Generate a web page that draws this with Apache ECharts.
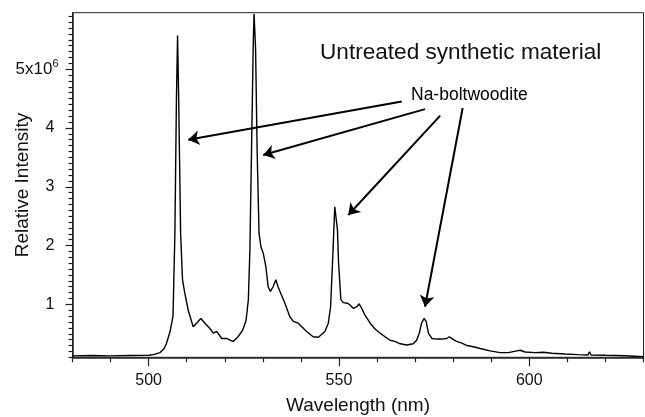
<!DOCTYPE html>
<html>
<head>
<meta charset="utf-8">
<script src="https://cdn.jsdelivr.net/npm/echarts@6/dist/echarts.min.js"></script>
<style>html,body{margin:0;padding:0;background:#fff}#c{width:645px;height:417px}</style>
</head>
<body>
<div id="c"></div>
<script>
// Wavelength (nm)
const wavelength = [480, 485, 490, 495, 500, 501.5, 503, 504.1, 504.7, 505.6, 506.4, 506.9, 507.3, 507.6, 507.9, 508.4, 508.9, 509.5, 510.4, 511.7, 512.6, 513.7, 514.8, 516.1, 517.0, 517.9, 519.2, 520.5, 521.4, 522.2, 523.5, 524.7, 525.6, 526.2, 526.6, 527.1, 527.5, 527.7, 528.1, 528.5, 529.0, 529.5, 530.1, 530.8, 531.4, 532.0, 532.7, 533.4, 534.0, 534.7, 535.8, 537.1, 538.0, 539.3, 541.5, 543.2, 544.6, 546.3, 547.2, 547.8, 548.3, 548.9, 549.2, 549.6, 549.9, 550.5, 551.1, 552.2, 552.9, 553.8, 554.7, 555.3, 556.0, 556.8, 558.2, 559.5, 560.8, 562.1, 563.4, 564.7, 566.1, 567.8, 569.5, 570.4, 571.1, 571.7, 572.35, 572.9, 573.5, 574.4, 575.7, 577.0, 578.3, 579.0, 579.9, 580.9, 582.3, 583.6, 585.3, 587.1, 589.7, 592.3, 594.5, 596.7, 597.6, 598.9, 601.5, 603.7, 605.9, 609.4, 612.9, 615.4, 615.8, 616.2, 620.0, 625.2, 630];
// Relative intensity (x10^6)
const intensity = [0.125, 0.13, 0.125, 0.13, 0.134, 0.15, 0.18, 0.25, 0.34, 0.53, 0.8, 2.21, 4.48, 5.57, 4.48, 2.21, 1.42, 1.19, 0.9, 0.62, 0.68, 0.76, 0.68, 0.59, 0.51, 0.54, 0.42, 0.42, 0.39, 0.37, 0.45, 0.56, 0.73, 1.08, 1.93, 3.91, 5.5, 5.94, 5.33, 3.63, 2.21, 1.98, 1.87, 1.64, 1.30, 1.22, 1.30, 1.42, 1.30, 1.19, 1.02, 0.79, 0.71, 0.68, 0.54, 0.45, 0.44, 0.54, 0.68, 0.96, 1.70, 2.66, 2.69, 2.27, 1.70, 1.08, 1.03, 1.02, 0.99, 0.93, 0.96, 1.01, 0.93, 0.82, 0.68, 0.58, 0.51, 0.45, 0.39, 0.37, 0.33, 0.31, 0.33, 0.39, 0.51, 0.68, 0.76, 0.71, 0.51, 0.42, 0.41, 0.41, 0.42, 0.45, 0.41, 0.37, 0.34, 0.30, 0.28, 0.25, 0.21, 0.18, 0.18, 0.21, 0.22, 0.19, 0.18, 0.185, 0.17, 0.156, 0.145, 0.14, 0.195, 0.14, 0.134, 0.127, 0.11];
const xLabelValues = [500, 550, 600];
const yLabelValues = [1, 2, 3, 4, 5];
const yMinorTicks = [0.1,0.2,0.3,0.4,0.5,0.6,0.7,0.8,0.9,1.1,1.2,1.3,1.4,1.5,1.6,1.7,1.8,1.9,2.1,2.2,2.3,2.4,2.5,2.6,2.7,2.8,2.9,3.1,3.2,3.3,3.4,3.5,3.6,3.7,3.8,3.9,4.1,4.2,4.3,4.4,4.5,4.6,4.7,4.8,4.9,5.1,5.2,5.3,5.4,5.5,5.6,5.7,5.8,5.9];
const xMinorTicks = [480,490,510,520,530,540,560,570,580,590,610,620,630];
const titleText = 'Untreated synthetic material';
const annotationText = 'Na-boltwoodite';
// Arrows: [start wavelength, start intensity, end wavelength, end intensity]
const arrows = [
  [566.5, 4.45, 510.4, 3.80],
  [572.6, 4.32, 530.1, 3.54],
  [576.6, 4.21, 552.45, 2.52],
  [582.5, 4.34, 572.6, 0.96]
];

const FONT = 'Liberation Sans, Arial, Helvetica, sans-serif';
const chart = echarts.init(document.getElementById('c'), null, {renderer: 'canvas'});
const data = wavelength.map((w, i) => [w, intensity[i]]);

const option = {
  animation: false,
  backgroundColor: '#fff',
  grid: {left: 72.5, right: 1.5, top: 12.7, bottom: 59.7, containLabel: false, outerBoundsMode: 'none', show: true, borderColor: '#222', borderWidth: 1, backgroundColor: 'transparent'},
  xAxis: [{
    type: 'value', min: 480, max: 630, interval: 10,
    axisLine: {show: true, lineStyle: {color: '#222', width: 1.5}},
    axisTick: {show: true, customValues: xMinorTicks, length: 5, lineStyle: {color: '#222', width: 1.2}},
    axisLabel: {customValues: xLabelValues, margin: 15, color: '#111', fontSize: 16, fontFamily: FONT},
    splitLine: {show: false},
    name: 'Wavelength (nm)', nameLocation: 'middle', nameGap: 39, nameMoveOverlap: false,
    nameTextStyle: {fontSize: 19, color: '#111', fontFamily: FONT}
  }, {
    type: 'value', min: 480, max: 630, position: 'bottom',
    axisLine: {show: false},
    axisTick: {show: true, customValues: xLabelValues, length: 9, lineStyle: {color: '#222', width: 1.2}},
    axisLabel: {show: false}, splitLine: {show: false}
  }],
  yAxis: [{
    type: 'value', min: 0.1, max: 5.96,
    axisLine: {show: true, lineStyle: {color: '#222', width: 1.5}},
    axisTick: {show: true, customValues: yMinorTicks, length: 4, lineStyle: {color: '#222', width: 1.2}},
    axisLabel: {
      customValues: yLabelValues, margin: 14, color: '#111', fontFamily: FONT, fontSize: 16,
      formatter: v => v === 5 ? '{n|5x10}{sup|6}' : '{p|' + v + '}',
      rich: {
        n: {fontSize: 17, fontFamily: FONT, color: '#111'},
        p: {fontSize: 16, fontFamily: FONT, color: '#111', padding: [0, 4, 0, 0]},
        sup: {fontSize: 11, fontFamily: FONT, color: '#111', verticalAlign: 'top', padding: [0, 0, 10, 0]}
      }
    },
    splitLine: {show: false},
    name: 'Relative Intensity', nameLocation: 'middle', nameGap: 40, nameMoveOverlap: false,
    nameTextStyle: {fontSize: 19, color: '#111', fontFamily: FONT}
  }, {
    type: 'value', min: 0.1, max: 5.96, position: 'left',
    axisLine: {show: false},
    axisTick: {show: true, customValues: yLabelValues, length: 7, lineStyle: {color: '#222', width: 1.2}},
    axisLabel: {show: false}, splitLine: {show: false}
  }],
  graphic: [
    {type: 'text', x: 320, y: 53, silent: true, style: {text: titleText, fontSize: 22.6, fontFamily: FONT, fill: '#111', verticalAlign: 'middle', align: 'left'}},
    {type: 'text', x: 411, y: 95, silent: true, style: {text: annotationText, fontSize: 17.5, fontFamily: FONT, fill: '#000', verticalAlign: 'middle', align: 'left'}}
  ],
  series: [{
    type: 'line', data: data, xAxisIndex: 0, yAxisIndex: 0,
    showSymbol: false, symbol: 'none',
    lineStyle: {color: '#000', width: 1.4},
    markLine: {
      silent: true, animation: false,
      symbol: ['none', 'arrow'], symbolSize: 11,
      label: {show: false},
      lineStyle: {color: '#000', width: 2, type: 'solid'},
      emphasis: {disabled: true},
      data: arrows.map(a => [{coord: [a[0], a[1]]}, {coord: [a[2], a[3]]}])
    }
  }]
};
chart.setOption(option);
</script>
</body>
</html>
